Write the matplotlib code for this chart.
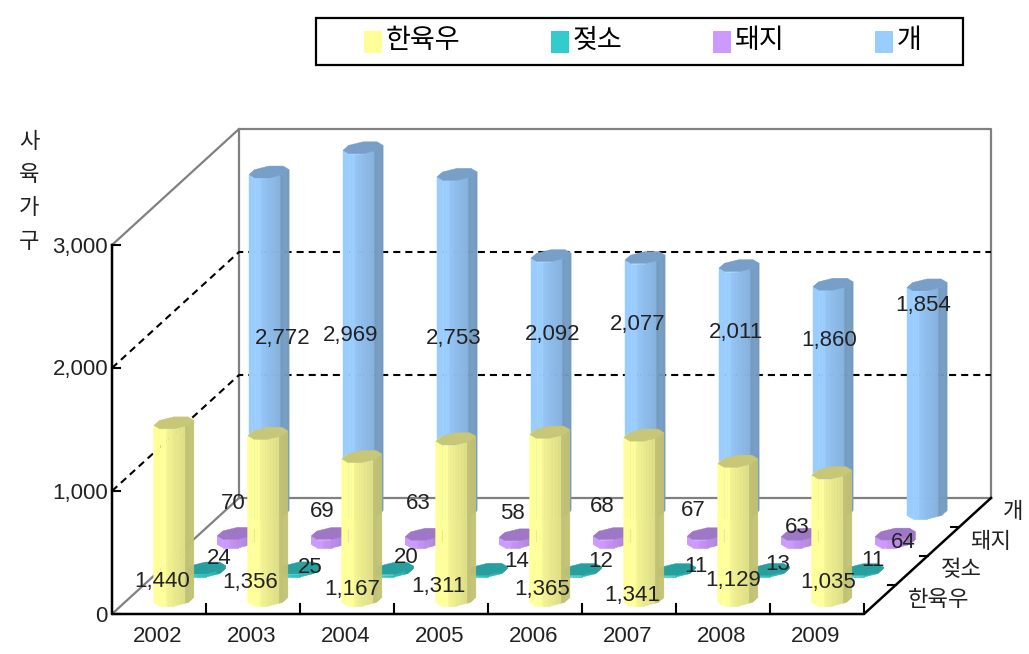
import numpy as np
import matplotlib
matplotlib.use("Agg")
import matplotlib.pyplot as plt
from matplotlib.colors import to_rgb

plt.rcParams['font.family'] = ['Liberation Sans', 'Noto Sans CJK KR', 'DejaVu Sans']

years = ["2002", "2003", "2004", "2005", "2006", "2007", "2008", "2009"]
series_names = ["한육우", "젖소", "돼지", "개"]
hanwoo = [1440, 1356, 1167, 1311, 1365, 1341, 1129, 1035]
jeotso = [24, 25, 20, 14, 12, 11, 13, 11]
dwaeji = [70, 69, 63, 58, 68, 67, 63, 64]
gae = [2772, 2969, 2753, 2092, 2077, 2011, 1860, 1854]
value_ticks = [0, 1000, 2000, 3000]
y_title = "사육가구"

series_values = [hanwoo, jeotso, dwaeji, gae]
colors = ["#FFFF99", "#33CCCC", "#CC99FF", "#99CCFF"]

# label nudges from the bar's base centre, pixels (right, up)
label_dx = [
    [-13, -19, -11, -18, -9, -13, -6, -5],
    [13, 10, 12, 28, 18, 19, 7, 8],
    [-5, -10, -8, -8, -12, -15, -5, 7],
    [13, -14, -4, 0, -8, -4, -5, -5],
]
label_dy = [
    [18, 17, 10, 13, 10, 4, 19, 17],
    [12, 3, 13, 9, 9, 4, 6, 10],
    [38, 30, 38, 28, 35, 31, 14, -1],
    [174, 177, 174, 178, 188, 180, 172, 207],
]
name_dx = [59, 50, 47, 38]

fig = plt.figure(figsize=(10.29, 6.54), dpi=100)
ax = fig.add_axes([0, 0, 1, 1])
ax.set_xlim(0, 1029)
ax.set_ylim(654, 0)
ax.axis('off')

# oblique projection of the chart box onto the figure
x0, y0 = 112, 614
cat_w = 94.0
depth_dx, depth_dy = 127 / 4, -116 / 4
per_value = 369 / 3000


def proj(cat, depth, value):
    return (x0 + cat * cat_w + depth * depth_dx,
            y0 + depth * depth_dy - value * per_value)


def shade(c, f):
    r = np.array(to_rgb(c)) * f
    return tuple(np.clip(r, 0, 1))


def strip_factor(t):
    # shading across the bar, t runs 0..1 from left to right edge
    if t < 0.3:
        return 1.0
    if t < 0.77:
        return 0.96 - 0.09 * (t - 0.3) / 0.47
    return 0.76


def bar3d(cat, depth, value, color, z):
    cx, cy = proj(cat + 0.5, depth + 0.5, 0)
    h = value * per_value
    angles = np.radians(np.arange(0, 360, 45) + 22.5)
    px = cx - 1 + 18.5 * np.cos(angles) + 7.5 * np.sin(angles)
    py = cy + 0.5 - 6.5 * np.sin(angles)
    xmin, xmax = px.min(), px.max()
    for i in range(8):
        j = (i + 1) % 8
        if np.sin((angles[i] + angles[j]) / 2) >= 0.05:
            continue
        # split each front facet so the shading bands do not follow its edges
        for s in np.linspace(0, 1, 6)[:-1]:
            e = s + 0.2
            xa, xb = px[i] + s * (px[j] - px[i]), px[i] + e * (px[j] - px[i])
            ya, yb = py[i] + s * (py[j] - py[i]), py[i] + e * (py[j] - py[i])
            t = ((xa + xb) / 2 - xmin) / (xmax - xmin)
            ax.fill([xa, xb, xb, xa], [ya, yb, yb - h, ya - h],
                    color=shade(color, strip_factor(t)), lw=0.4, zorder=z)
    ax.fill(px, py - h, color=shade(color, 0.78), lw=0.3, zorder=z + 0.1)


# walls and grid
grey = "#808080"
bl = proj(0, 0, 0)
br = proj(8, 0, 0)
tl = proj(0, 4, 0)
tr = proj(8, 4, 0)
top_v = value_ticks[-1]
for p, q in [(bl, tl), (tl, tr)]:
    ax.plot([p[0], q[0]], [p[1], q[1]], color=grey, lw=1.6, zorder=1)
wall = [proj(0, 0, top_v), proj(0, 4, top_v), proj(8, 4, top_v), proj(8, 4, 0)]
ax.plot([p[0] for p in wall], [p[1] for p in wall], color=grey, lw=1.6, zorder=1)
ax.plot([tl[0], tl[0]], [tl[1], wall[1][1]], color=grey, lw=1.6, zorder=1)
for v in value_ticks[1:3]:
    a = proj(0, 0, v)
    b = proj(0, 4, v)
    c = proj(8, 4, v)
    ax.plot([a[0], b[0], c[0]], [a[1], b[1], c[1]], color='black', lw=1.5,
            dashes=(3.4, 2.4), zorder=1.5)

# bars, back row first
for d in [3, 2, 1, 0]:
    for k, v in enumerate(series_values[d]):
        bar3d(k, d, v, colors[d], 2 + (3 - d) + k * 0.01)

# axes in black
top = proj(0, 0, top_v)
ax.plot([top[0], bl[0], br[0], tr[0]], [top[1], bl[1], br[1], tr[1]], color='black', lw=1.8, zorder=8)
for v in value_ticks:
    p = proj(0, 0, v)
    ax.plot([p[0], p[0] + 8], [p[1], p[1]], color='black', lw=1.5, zorder=8)
    ax.text(p[0] - 4, p[1] + 2, f"{v:,}", ha='right', va='center', fontsize=16, color='#222222', zorder=9)
for k in range(1, 9):
    p = proj(k, 0, 0)
    ax.plot([p[0], p[0]], [p[1], p[1] - 10], color='black', lw=1.5, zorder=8)
for k, lab in enumerate(years):
    p = proj(k, 0, 0)
    ax.text(p[0] + 46, p[1] + 23, lab, ha='center', va='center', fontsize=16, color='#222222', zorder=9)
for d in range(1, 4):
    p = proj(8, d, 0)
    ax.plot([p[0] - 8, p[0]], [p[1], p[1]], color='black', lw=1.5, zorder=8)
for d, name in enumerate(series_names):
    p = proj(8, d + 0.5, 0)
    ax.text(p[0] + name_dx[d], p[1] + 0.5, name, ha='center', va='center', fontsize=16,
            color='#222222', zorder=9)

# data labels
for d in range(4):
    for k, v in enumerate(series_values[d]):
        p = proj(k + 0.5, d + 0.5, 0)
        ax.text(p[0] + label_dx[d][k], p[1] - label_dy[d][k], f"{v:,}", ha='center', va='center',
                fontsize=16, color='#222222', zorder=10)

# y title, one character per line
for i, ch in enumerate(y_title):
    ax.text(29, 142 + i * 33.5, ch, ha='center', va='center', fontsize=16, color='#222222')

# legend box
ax.fill([316, 963, 963, 316], [18, 18, 65, 65], facecolor='white', edgecolor='black', lw=1.6, zorder=11)
legend_x = [364, 551, 713, 875]
for name, c, lx in zip(series_names, colors, legend_x):
    ax.fill([lx, lx + 18, lx + 18, lx], [31, 31, 53, 53], color=c, lw=0, zorder=12)
    ax.text(lx + 22, 41, name, ha='left', va='center', fontsize=19.5, color='black', zorder=12)

fig.savefig("out.png", dpi=100)
